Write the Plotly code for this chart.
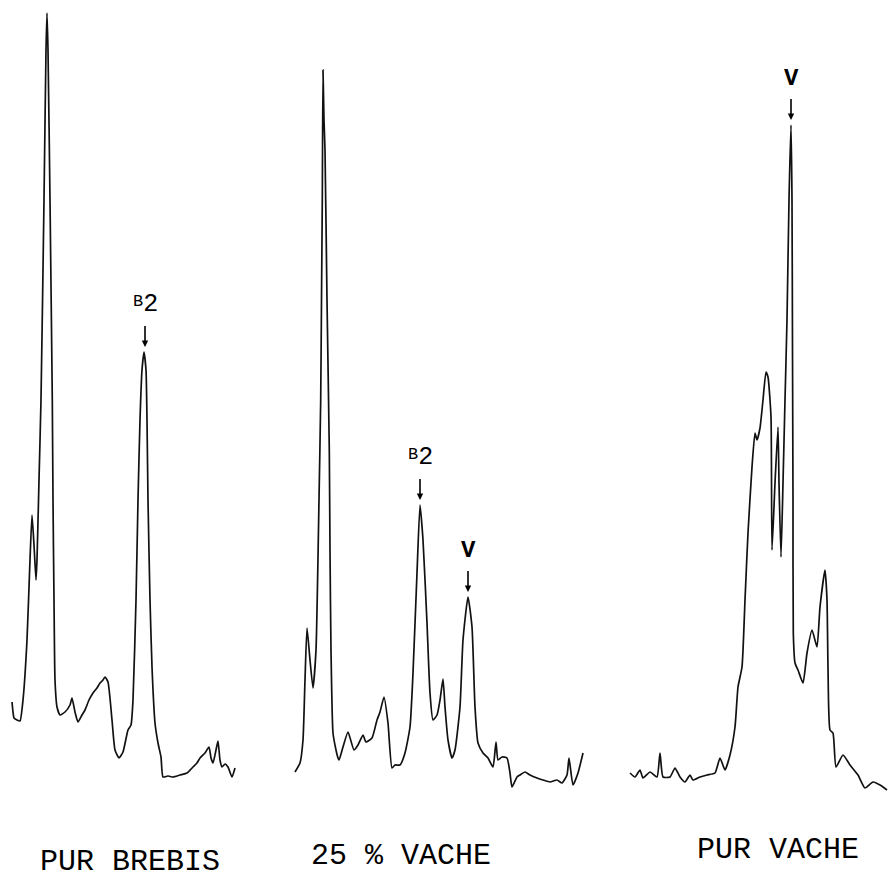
import plotly.graph_objects as go

# Signal traces (x = retention position, y = detector response, arbitrary units)
brebis_x = [12, 13, 14, 17, 20, 23, 27, 30, 32, 34, 36, 37, 39, 41, 44, 46, 47, 48, 50, 52.3, 53, 54, 55, 57,
            60, 65, 70, 72, 75, 78, 82, 85, 89, 93, 97, 100, 103, 105, 108, 112, 115, 119, 123, 128, 131, 133, 136,
            138, 140, 142, 144, 146, 147, 148, 150, 152, 155, 158, 161, 163, 168, 173, 180, 187, 193, 197, 200,
            205, 209, 211, 213, 216, 218, 220, 222, 225, 228, 232, 235]
brebis_y = [702, 712, 718, 720, 721, 700, 640, 560, 515, 545, 580, 560, 480, 400, 200, 50, 13, 50, 200, 400,
            500, 600, 680, 707, 715, 712, 705, 698, 712, 722, 715, 710, 700, 693, 688, 683, 680, 677, 682, 720,
            750, 758, 752, 730, 725, 700, 600, 500, 420, 370, 352, 370, 420, 500, 600, 667, 723, 743, 757, 777,
            776, 777, 775, 773, 767, 763, 758, 753, 747, 758, 763, 750, 741, 760, 767, 764, 767, 777, 768]

mix_x = [295, 300, 303, 305, 307, 310, 313, 316, 319, 320.7, 321.5, 322.3, 323, 324, 325, 327, 329.3, 330, 331,
         333, 336, 338, 339, 343, 348, 354, 358, 363, 366, 372, 377, 380, 384, 388, 392, 395, 400, 405, 410, 413,
         417, 420, 423, 427, 430, 433, 437, 440, 443, 445, 448, 452, 455, 460, 463, 468, 472, 475, 478, 483, 488,
         493, 496, 498, 502, 507, 510, 512, 517, 520, 525, 530, 537, 543, 550, 557, 562, 567, 569, 573, 578, 583]
mix_y = [772, 763, 740, 680, 628, 660, 688, 650, 500, 400, 300, 200, 70, 120, 150, 300, 450, 550, 650,
         733, 750, 758, 760, 747, 732, 750, 745, 735, 742, 738, 720, 712, 697, 723, 768, 765, 765, 753, 727, 673,
         573, 505, 540, 623, 693, 720, 715, 700, 679, 707, 740, 758, 750, 707, 640, 597, 627, 707, 743, 753, 758,
         767, 742, 760, 757, 758, 773, 787, 777, 775, 772, 775, 778, 780, 782, 780, 783, 775, 758, 785, 773, 753]

vache_x = [630, 635, 640, 643, 650, 657, 660, 663, 670, 675, 680, 685, 690, 693, 700, 707, 715, 720, 725, 730,
           735, 738, 742, 745, 748, 752, 755, 757, 760, 763, 766, 768, 771, 772, 775, 778, 779, 781, 783, 785,
           787, 789, 791, 792, 792.5, 793, 793.3, 795, 798, 803, 807, 812, 817, 820, 825, 827, 828, 830, 833,
           836, 843, 850, 858, 865, 873, 880, 887]
vache_y = [773, 777, 770, 778, 772, 777, 753, 777, 777, 768, 777, 782, 775, 780, 777, 775, 773, 758, 770, 755,
           727, 687, 667, 600, 533, 467, 433, 440, 428, 400, 372, 377, 417, 550, 483, 427, 483, 557, 483, 400,
           320, 200, 125, 200, 350, 500, 633, 663, 670, 683, 653, 630, 647, 607, 570, 600, 667, 730, 733,
           767, 755, 765, 775, 788, 782, 785, 790]

sample_labels = ["PUR BREBIS", "25 % VACHE", "PUR VACHE"]
sample_label_x = [130, 401, 778]
sample_label_y = [19, 25, 31]

peak_labels = ["<span style='font-size:17px'>B</span><sub><span style='font-size:25px'>2</span></sub>",
               "<span style='font-size:17px'>B</span><sub><span style='font-size:25px'>2</span></sub>",
               "<b>V</b>", "<b>V</b>"]
peak_x = [145, 420, 468, 791]
peak_y = [352, 505, 597, 125]

FONT = "Courier New, Liberation Mono, monospace"

fig = go.Figure()
for xs, ys in [(brebis_x, brebis_y), (mix_x, mix_y), (vache_x, vache_y)]:
    fig.add_trace(go.Scatter(x=xs, y=[881 - v for v in ys], mode="lines",
                             line=dict(color="#111111", width=1.7, shape="spline", smoothing=0.5),
                             hoverinfo="skip", showlegend=False))

for lab, px, py in zip(peak_labels, peak_x, peak_y):
    fig.add_annotation(x=px, y=881 - py + 5, ax=0, ay=-26, showarrow=True, arrowhead=2,
                       arrowsize=0.8, arrowwidth=1.6, arrowcolor="black", startstandoff=5,
                       text=lab, yanchor="bottom",
                       font=dict(family=FONT, size=24, color="black"))

for lab, lx, ly in zip(sample_labels, sample_label_x, sample_label_y):
    fig.add_annotation(x=lx, y=ly, text=lab, showarrow=False,
                       font=dict(family=FONT, size=30, color="black"))

fig.update_layout(width=890, height=881, margin=dict(l=0, r=0, t=0, b=0),
                  paper_bgcolor="white", plot_bgcolor="white")
fig.update_xaxes(range=[0, 890], visible=False)
fig.update_yaxes(range=[0, 881], visible=False)
fig.write_html("out.html", config={"displayModeBar": False},
               post_script="document.body.style.margin='0';document.body.style.overflow='hidden';")
